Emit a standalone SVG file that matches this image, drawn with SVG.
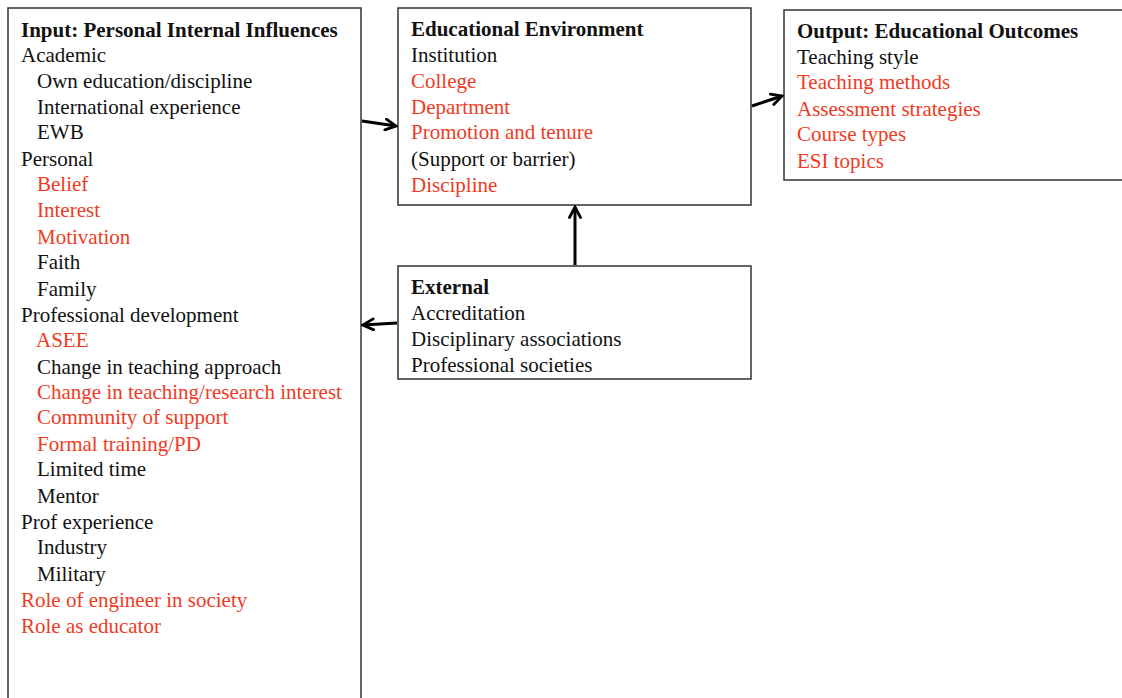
<svg xmlns="http://www.w3.org/2000/svg" width="1122" height="698" viewBox="0 0 1122 698">
<style>
text{font-family:"Liberation Serif","Times New Roman",serif;font-size:21px;fill:#111}
.b{font-weight:bold}
.r{fill:#f03a24}
.box{fill:#fff;stroke:#333;stroke-width:1.5}
.c{stroke:#000;stroke-width:3;fill:none}
</style>
<defs>
<marker id="ah" viewBox="0 0 14 14" refX="12" refY="7" markerWidth="14" markerHeight="14" markerUnits="userSpaceOnUse" orient="auto">
<path d="M1.5,1.5 L12,7 L1.5,12.5" fill="none" stroke="#000" stroke-width="2.8" stroke-linecap="round"/>
</marker>
</defs>
<rect width="1122" height="698" fill="#fff"/>
<g id="input">
<rect class="box" x="8" y="8" width="353" height="700"/>
<text class="b" x="21" y="37">Input: Personal Internal Influences</text>
<text x="21" y="62">Academic</text>
<text x="37" y="88">Own education/discipline</text>
<text x="37" y="114">International experience</text>
<text x="37" y="139">EWB</text>
<text x="21" y="166">Personal</text>
<text class="r" x="37" y="191">Belief</text>
<text class="r" x="37" y="217">Interest</text>
<text class="r" x="37" y="244">Motivation</text>
<text x="37" y="269">Faith</text>
<text x="37" y="296">Family</text>
<text x="21" y="322">Professional development</text>
<text class="r" x="36" y="347">ASEE</text>
<text x="37" y="374">Change in teaching approach</text>
<text class="r" x="37" y="399">Change in teaching/research interest</text>
<text class="r" x="37" y="424">Community of support</text>
<text class="r" x="37" y="451">Formal training/PD</text>
<text x="37" y="476">Limited time</text>
<text x="37" y="503">Mentor</text>
<text x="21" y="529">Prof experience</text>
<text x="37" y="554">Industry</text>
<text x="37" y="581">Military</text>
<text class="r" x="21" y="607">Role of engineer in society</text>
<text class="r" x="21" y="633">Role as educator</text>
</g>
<g id="environment">
<rect class="box" x="398" y="8" width="353" height="197"/>
<text class="b" x="411" y="36">Educational Environment</text>
<text x="411" y="62">Institution</text>
<text class="r" x="411" y="88">College</text>
<text class="r" x="411" y="114">Department</text>
<text class="r" x="411" y="139">Promotion and tenure</text>
<text x="411" y="166">(Support or barrier)</text>
<text class="r" x="411" y="192">Discipline</text>
</g>
<g id="output">
<rect class="box" x="784" y="10" width="350" height="170"/>
<text class="b" x="797" y="38">Output: Educational Outcomes</text>
<text x="797" y="64">Teaching style</text>
<text class="r" x="797" y="89">Teaching methods</text>
<text class="r" x="797" y="116">Assessment strategies</text>
<text class="r" x="797" y="141">Course types</text>
<text class="r" x="797" y="168">ESI topics</text>
</g>
<g id="external">
<rect class="box" x="398" y="266" width="353" height="113"/>
<text class="b" x="411" y="294">External</text>
<text x="411" y="320">Accreditation</text>
<text x="411" y="346">Disciplinary associations</text>
<text x="411" y="372">Professional societies</text>
</g>
<g id="connectors">
<path class="c" d="M362,121 L396,126" marker-end="url(#ah)"/>
<path class="c" d="M752,106 L782,96" marker-end="url(#ah)"/>
<path class="c" d="M575,265 L575,207" marker-end="url(#ah)"/>
<path class="c" d="M397,323 L363,325" marker-end="url(#ah)"/>
</g>
</svg>
